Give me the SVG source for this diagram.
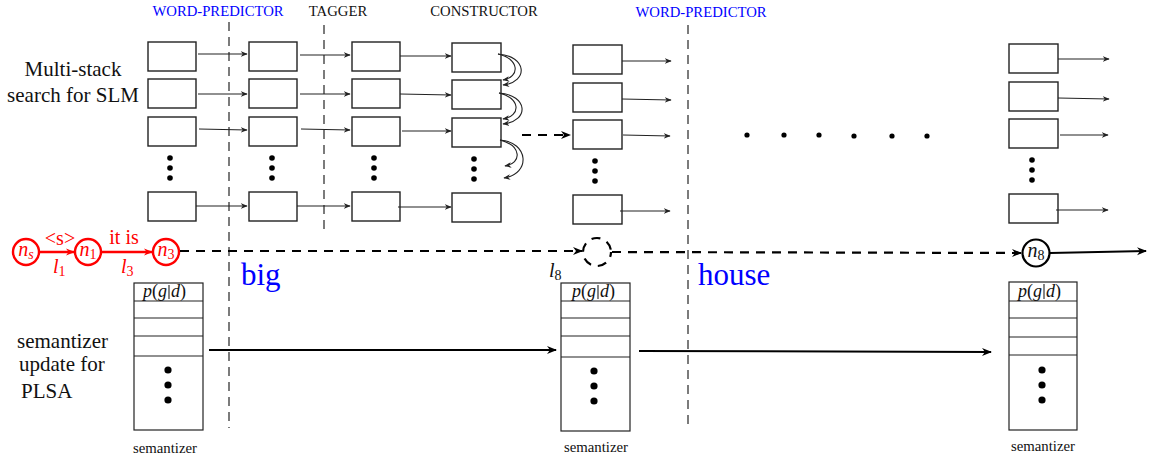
<svg xmlns="http://www.w3.org/2000/svg" width="1152" height="462" viewBox="0 0 1152 462">
  <style>
    .box { fill: #fff; stroke: #222; stroke-width: 1.4; }
    .sem { fill: #fff; stroke: #222; stroke-width: 1.2; }
    .thin { stroke: #222; stroke-width: 1.1; fill: none; }
    .vdash { stroke: #444; stroke-width: 1.4; stroke-dasharray: 9 6; fill: none; }
    .hdash { stroke: #000; stroke-width: 2.2; stroke-dasharray: 9 7; fill: none; }
    .thick { stroke: #000; stroke-width: 2; fill: none; }
    .red { stroke: #f00; stroke-width: 2.4; fill: none; }
    .blue { fill: #00f; }
    .dot { fill: #000; }
    text { font-family: "Liberation Serif", serif; }
  </style>
  <defs>
    <marker id="ah" viewBox="0 0 10 10" refX="9" refY="5" markerWidth="7" markerHeight="7" markerUnits="userSpaceOnUse" orient="auto">
      <path d="M0,1 L10,5 L0,9 L3,5 Z" fill="#222"/>
    </marker>
    <marker id="ahb" viewBox="0 0 10 10" refX="9" refY="5" markerWidth="10" markerHeight="10" markerUnits="userSpaceOnUse" orient="auto">
      <path d="M0,1 L10,5 L0,9 L3,5 Z" fill="#000"/>
    </marker>
    <marker id="ahr" viewBox="0 0 10 10" refX="9" refY="5" markerWidth="9" markerHeight="9" markerUnits="userSpaceOnUse" orient="auto">
      <path d="M0,1 L10,5 L0,9 L3,5 Z" fill="#f00"/>
    </marker>
    <g id="stackdots">
      <circle cx="0" cy="0" r="2.8"/>
      <circle cx="0" cy="10" r="2.8"/>
      <circle cx="0" cy="20" r="2.8"/>
    </g>
    <g id="semdots">
      <circle cx="0" cy="0" r="3.6"/>
      <circle cx="0" cy="15" r="3.6"/>
      <circle cx="0" cy="30" r="3.6"/>
    </g>
  </defs>

  <!-- stage headings -->
  <g id="headings" font-size="14.7">
    <text x="218" y="16" text-anchor="middle" class="blue">WORD-PREDICTOR</text>
    <text x="338" y="16" text-anchor="middle" fill="#111">TAGGER</text>
    <text x="484" y="16" text-anchor="middle" fill="#111">CONSTRUCTOR</text>
    <text x="701" y="17" text-anchor="middle" class="blue">WORD-PREDICTOR</text>
  </g>

  <!-- stage separators -->
  <g id="separators">
    <line class="vdash" x1="229" y1="22" x2="229" y2="428"/>
    <line class="vdash" x1="324" y1="25" x2="324" y2="232"/>
    <line class="vdash" x1="688" y1="25" x2="688" y2="428"/>
  </g>

  <!-- side captions -->
  <g id="captions" font-size="21" fill="#111">
    <text x="73" y="76" text-anchor="middle">Multi-stack</text>
    <text x="73" y="102" text-anchor="middle">search for SLM</text>
    <text x="17" y="348">semantizer</text>
    <text x="19" y="371">update for</text>
    <text x="21" y="398">PLSA</text>
  </g>

  <!-- stack column 1 -->
  <g id="stack1">
    <rect class="box" x="148" y="42" width="48" height="29"/>
    <rect class="box" x="148" y="79" width="48" height="29"/>
    <rect class="box" x="148" y="117" width="48" height="29"/>
    <use href="#stackdots" x="170" y="158" class="dot"/>
    <rect class="box" x="148" y="192" width="48" height="29"/>
  </g>
  <!-- stack column 2 -->
  <g id="stack2">
    <rect class="box" x="249" y="42" width="48" height="29"/>
    <rect class="box" x="249" y="79" width="48" height="29"/>
    <rect class="box" x="249" y="117" width="48" height="29"/>
    <use href="#stackdots" x="272" y="158" class="dot"/>
    <rect class="box" x="249" y="192" width="48" height="29"/>
  </g>
  <!-- stack column 3 -->
  <g id="stack3">
    <rect class="box" x="352" y="42" width="48" height="29"/>
    <rect class="box" x="352" y="79" width="48" height="29"/>
    <rect class="box" x="352" y="117" width="48" height="29"/>
    <use href="#stackdots" x="374" y="158" class="dot"/>
    <rect class="box" x="352" y="192" width="48" height="29"/>
  </g>
  <!-- stack column 4 -->
  <g id="stack4">
    <rect class="box" x="452" y="43" width="49" height="29"/>
    <rect class="box" x="452" y="80" width="49" height="29"/>
    <rect class="box" x="452" y="118" width="49" height="29"/>
    <use href="#stackdots" x="474" y="159" class="dot"/>
    <rect class="box" x="452" y="193" width="49" height="29"/>
  </g>
  <!-- stack column 5 -->
  <g id="stack5">
    <rect class="box" x="573" y="45" width="49" height="29"/>
    <rect class="box" x="573" y="83" width="49" height="29"/>
    <rect class="box" x="573" y="120" width="49" height="29"/>
    <use href="#stackdots" x="595" y="161" class="dot"/>
    <rect class="box" x="573" y="195" width="49" height="29"/>
  </g>
  <!-- stack column 6 -->
  <g id="stack6">
    <rect class="box" x="1009" y="44" width="49" height="29"/>
    <rect class="box" x="1009" y="82" width="49" height="29"/>
    <rect class="box" x="1009" y="119" width="49" height="29"/>
    <use href="#stackdots" x="1032" y="160" class="dot"/>
    <rect class="box" x="1009" y="194" width="49" height="29"/>
  </g>

  <!-- ellipsis between stages -->
  <g id="ellipsis" class="dot">
    <circle cx="747" cy="135" r="2.6"/>
    <circle cx="784" cy="135" r="2.6"/>
    <circle cx="819" cy="135" r="2.6"/>
    <circle cx="854" cy="136" r="2.6"/>
    <circle cx="892" cy="136" r="2.6"/>
    <circle cx="927" cy="136" r="2.6"/>
  </g>

  <!-- SLM lattice nodes -->
  <g id="node-ns">
    <circle class="red" cx="26" cy="252" r="13"/>
    <text x="26" y="256" text-anchor="middle" font-size="20" fill="#f00" font-style="italic">n<tspan font-size="14" dy="3">s</tspan></text>
  </g>
  <g id="node-n1">
    <circle class="red" cx="88" cy="252" r="13"/>
    <text x="88" y="256" text-anchor="middle" font-size="20" fill="#f00" font-style="italic">n<tspan font-size="14" font-style="normal" dy="3">1</tspan></text>
  </g>
  <g id="node-n3">
    <circle class="red" cx="166" cy="252" r="13"/>
    <text x="166" y="256" text-anchor="middle" font-size="20" fill="#f00" font-style="italic">n<tspan font-size="14" font-style="normal" dy="3">3</tspan></text>
  </g>
  <g id="node-l8">
    <circle cx="597" cy="252" r="14" fill="none" stroke="#000" stroke-width="2.2" stroke-dasharray="9 7" stroke-dashoffset="4"/>
  </g>
  <g id="node-n8">
    <circle cx="1036" cy="253" r="13.5" fill="#fff" stroke="#000" stroke-width="2.2"/>
    <text x="1036" y="257" text-anchor="middle" font-size="20" fill="#111" font-style="italic">n<tspan font-size="14" font-style="normal" dy="3">8</tspan></text>
  </g>

  <!-- semantizer tables -->
  <g id="semantizer1">
    <rect class="sem" x="134" y="283" width="69" height="147"/>
    <line class="thin" x1="134" y1="301" x2="203" y2="301"/>
    <line class="thin" x1="134" y1="318" x2="203" y2="318"/>
    <line class="thin" x1="134" y1="336" x2="203" y2="336"/>
    <line class="thin" x1="134" y1="356" x2="203" y2="356"/>
    <line class="thin" x1="169" y1="285" x2="169" y2="299"/>
    <text x="167" y="297" font-size="18" text-anchor="end" fill="#111"><tspan font-style="italic">p</tspan>(<tspan font-style="italic">g</tspan></text>
    <text x="171" y="297" font-size="18" fill="#111"><tspan font-style="italic">d</tspan>)</text>
    <use href="#semdots" x="168" y="370" class="dot"/>
    <text x="165" y="453" font-size="14.8" text-anchor="middle" fill="#111">semantizer</text>
  </g>
  <g id="semantizer2">
    <rect class="sem" x="561" y="283" width="69" height="148"/>
    <line class="thin" x1="561" y1="301" x2="630" y2="301"/>
    <line class="thin" x1="561" y1="318" x2="630" y2="318"/>
    <line class="thin" x1="561" y1="336" x2="630" y2="336"/>
    <line class="thin" x1="561" y1="357" x2="630" y2="357"/>
    <line class="thin" x1="598" y1="285" x2="598" y2="299"/>
    <text x="596" y="297" font-size="18" text-anchor="end" fill="#111"><tspan font-style="italic">p</tspan>(<tspan font-style="italic">g</tspan></text>
    <text x="600" y="297" font-size="18" fill="#111"><tspan font-style="italic">d</tspan>)</text>
    <use href="#semdots" x="594" y="371" class="dot"/>
    <text x="596" y="452" font-size="14.8" text-anchor="middle" fill="#111">semantizer</text>
  </g>
  <g id="semantizer3">
    <rect class="sem" x="1009" y="282" width="68" height="148"/>
    <line class="thin" x1="1009" y1="301" x2="1077" y2="301"/>
    <line class="thin" x1="1009" y1="318" x2="1077" y2="318"/>
    <line class="thin" x1="1009" y1="337" x2="1077" y2="337"/>
    <line class="thin" x1="1009" y1="355" x2="1077" y2="355"/>
    <line class="thin" x1="1044" y1="284" x2="1044" y2="299"/>
    <text x="1042" y="297" font-size="18" text-anchor="end" fill="#111"><tspan font-style="italic">p</tspan>(<tspan font-style="italic">g</tspan></text>
    <text x="1046" y="297" font-size="18" fill="#111"><tspan font-style="italic">d</tspan>)</text>
    <use href="#semdots" x="1042" y="370" class="dot"/>
    <text x="1043" y="451" font-size="14.8" text-anchor="middle" fill="#111">semantizer</text>
  </g>

  <!-- word labels -->
  <g id="words">
    <text x="241" y="285" font-size="31" class="blue">big</text>
    <text x="698" y="285" font-size="31" class="blue">house</text>
    <text x="549" y="277" font-size="20" font-style="italic" fill="#111">l<tspan font-size="14" font-style="normal" dy="3">8</tspan></text>
  </g>

  <!-- connectors -->
  <g id="connectors">
    <!-- column 1 to 2 -->
    <line class="thin" x1="198" y1="54" x2="247" y2="54" marker-end="url(#ah)"/>
    <line class="thin" x1="198" y1="94" x2="247" y2="94" marker-end="url(#ah)"/>
    <line class="thin" x1="199" y1="129" x2="247" y2="130" marker-end="url(#ah)"/>
    <line class="thin" x1="196" y1="206" x2="247" y2="206" marker-end="url(#ah)"/>
    <!-- column 2 to 3 -->
    <line class="thin" x1="300" y1="55" x2="350" y2="55" marker-end="url(#ah)"/>
    <line class="thin" x1="300" y1="94" x2="350" y2="94" marker-end="url(#ah)"/>
    <line class="thin" x1="301" y1="129" x2="350" y2="130" marker-end="url(#ah)"/>
    <line class="thin" x1="297" y1="206" x2="350" y2="206" marker-end="url(#ah)"/>
    <!-- column 3 to 4 -->
    <line class="thin" x1="400" y1="56" x2="451" y2="56" marker-end="url(#ah)"/>
    <line class="thin" x1="400" y1="94" x2="451" y2="95" marker-end="url(#ah)"/>
    <line class="thin" x1="402" y1="131" x2="451" y2="131" marker-end="url(#ah)"/>
    <line class="thin" x1="398" y1="207" x2="451" y2="207" marker-end="url(#ah)"/>
    <!-- constructor loops -->
    <path class="thin" d="M498,54 C527,56 529,82 503,85" marker-end="url(#ah)"/>
    <path class="thin" d="M498,54 C520,59 520,77 503,80" marker-end="url(#ah)"/>
    <path class="thin" d="M499,93 C528,95 530,121 503,124" marker-end="url(#ah)"/>
    <path class="thin" d="M499,93 C521,98 521,116 503,119" marker-end="url(#ah)"/>
    <path class="thin" d="M500,140 C529,142 531,174 504,178" marker-end="url(#ah)"/>
    <path class="thin" d="M500,140 C522,146 522,163 505,166" marker-end="url(#ah)"/>
    <!-- constructor to next word predictor -->
    <line class="hdash" x1="522" y1="135" x2="570" y2="135" marker-end="url(#ahb)"/>
    <!-- column 5 outputs -->
    <line class="thin" x1="622" y1="61" x2="671" y2="61" marker-end="url(#ah)"/>
    <line class="thin" x1="622" y1="99" x2="671" y2="100" marker-end="url(#ah)"/>
    <line class="thin" x1="623" y1="135" x2="670" y2="136" marker-end="url(#ah)"/>
    <line class="thin" x1="620" y1="211" x2="670" y2="211" marker-end="url(#ah)"/>
    <!-- column 6 outputs -->
    <line class="thin" x1="1058" y1="59" x2="1109" y2="59" marker-end="url(#ah)"/>
    <line class="thin" x1="1058" y1="98" x2="1109" y2="99" marker-end="url(#ah)"/>
    <line class="thin" x1="1060" y1="135" x2="1108" y2="135" marker-end="url(#ah)"/>
    <line class="thin" x1="1056" y1="210" x2="1108" y2="210" marker-end="url(#ah)"/>
    <!-- red lattice arcs -->
    <line class="red" x1="39" y1="252" x2="74" y2="252" marker-end="url(#ahr)"/>
    <line class="red" x1="101" y1="252" x2="152" y2="252" marker-end="url(#ahr)"/>
    <!-- lattice continuation -->
    <line class="hdash" x1="180" y1="251" x2="582" y2="251" marker-end="url(#ahb)"/>
    <line class="hdash" x1="612" y1="252" x2="1021" y2="253" marker-end="url(#ahb)"/>
    <line class="thick" stroke-width="2.2" x1="1050" y1="253" x2="1146" y2="251" marker-end="url(#ahb)"/>
    <!-- semantizer updates -->
    <line class="thick" x1="209" y1="350" x2="556" y2="350" marker-end="url(#ahb)"/>
    <line class="thick" x1="639" y1="351" x2="991" y2="352" marker-end="url(#ahb)"/>
  </g>

  <!-- red arc labels -->
  <g id="arc-labels" fill="#f00">
    <text x="60" y="245" font-size="20" text-anchor="middle">&lt;s&gt;</text>
    <text x="53" y="273" font-size="20" font-style="italic">l<tspan font-size="14" font-style="normal" dy="3">1</tspan></text>
    <text x="124" y="244" font-size="20" text-anchor="middle">it is</text>
    <text x="121" y="273" font-size="20" font-style="italic">l<tspan font-size="14" font-style="normal" dy="3">3</tspan></text>
  </g>
</svg>
